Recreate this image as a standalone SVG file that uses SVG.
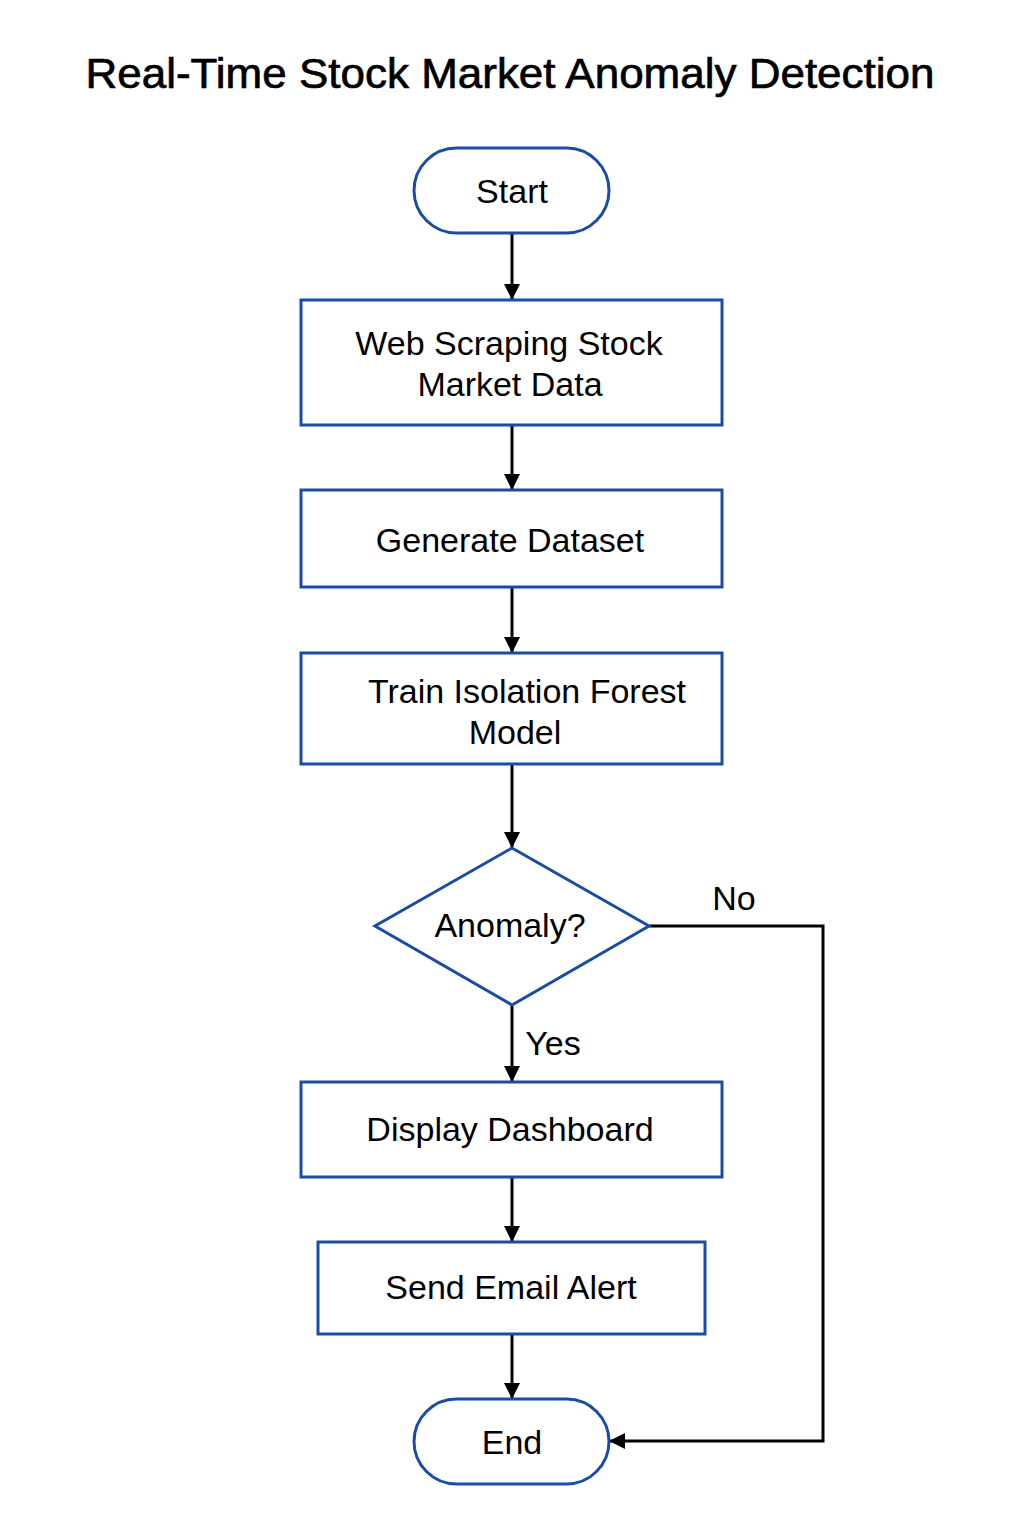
<svg xmlns="http://www.w3.org/2000/svg" width="1024" height="1536" viewBox="0 0 1024 1536">
<style>
.n{fill:#ffffff;stroke:#1a4ca6;stroke-width:3}
.t{font-family:"Liberation Sans",Arial,sans-serif;font-size:34px;fill:#000;text-anchor:middle}
.c{fill:none;stroke:#000;stroke-width:3}
.title{font-family:"Liberation Sans",Arial,sans-serif;font-size:42px;fill:#000;stroke:#000;stroke-width:0.7;text-anchor:middle}
</style>
<defs>
<marker id="ah" markerWidth="16" markerHeight="16" refX="15" refY="8" orient="auto" markerUnits="userSpaceOnUse">
<path d="M0,0 L16,8 L0,16 Z" fill="#000"/>
</marker>
</defs>
<rect width="1024" height="1536" fill="#ffffff"/>
<text class="title" x="510" y="88" textLength="849" lengthAdjust="spacingAndGlyphs">Real-Time Stock Market Anomaly Detection</text>
<g id="connectors">
<line class="c" x1="512" y1="234" x2="512" y2="299" marker-end="url(#ah)"/>
<line class="c" x1="512" y1="426" x2="512" y2="489" marker-end="url(#ah)"/>
<line class="c" x1="512" y1="588" x2="512" y2="652" marker-end="url(#ah)"/>
<line class="c" x1="512" y1="765" x2="512" y2="847" marker-end="url(#ah)"/>
<line class="c" x1="512" y1="1006" x2="512" y2="1081" marker-end="url(#ah)"/>
<line class="c" x1="512" y1="1178" x2="512" y2="1241" marker-end="url(#ah)"/>
<line class="c" x1="512" y1="1335" x2="512" y2="1398" marker-end="url(#ah)"/>
<polyline class="c" points="649,926 823,926 823,1441 610,1441" marker-end="url(#ah)"/>
<text class="t" x="734" y="910">No</text>
<text class="t" x="553" y="1055">Yes</text>
</g>
<g id="start">
<rect class="n" x="414" y="148" width="195" height="85" rx="42.5"/>
<text class="t" x="512" y="203">Start</text>
</g>
<g id="scrape">
<rect class="n" x="301" y="300" width="421" height="125"/>
<text class="t" x="509" y="355">Web Scraping Stock</text>
<text class="t" x="510" y="396">Market Data</text>
</g>
<g id="dataset">
<rect class="n" x="301" y="490" width="421" height="97"/>
<text class="t" x="510" y="552">Generate Dataset</text>
</g>
<g id="train">
<rect class="n" x="301" y="653" width="421" height="111"/>
<text class="t" x="527" y="703">Train Isolation Forest</text>
<text class="t" x="515" y="744">Model</text>
</g>
<g id="decision">
<polygon class="n" points="512,848 649,926 512,1005 375,926"/>
<text class="t" x="510" y="937">Anomaly?</text>
</g>
<g id="dashboard">
<rect class="n" x="301" y="1082" width="421" height="95"/>
<text class="t" x="510" y="1141">Display Dashboard</text>
</g>
<g id="email">
<rect class="n" x="318" y="1242" width="387" height="92"/>
<text class="t" x="511" y="1299">Send Email Alert</text>
</g>
<g id="end">
<rect class="n" x="414" y="1399" width="195" height="85" rx="42.5"/>
<text class="t" x="512" y="1454">End</text>
</g>
</svg>
